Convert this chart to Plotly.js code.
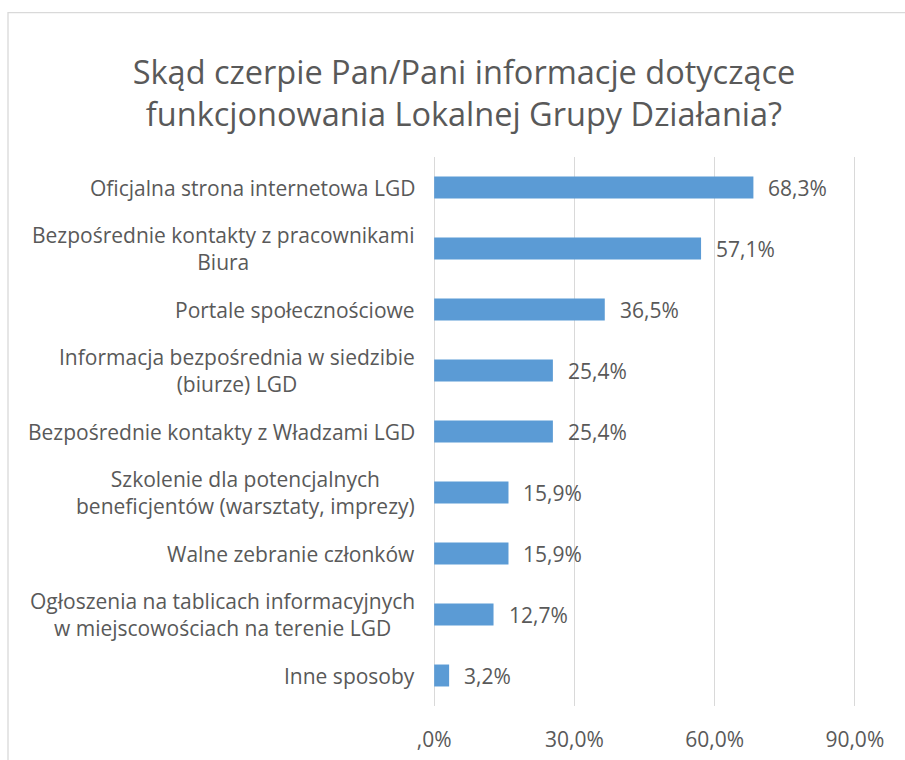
<!DOCTYPE html>
<html>
<head>
<meta charset="utf-8">
<script src="https://cdn.plot.ly/plotly-3.0.1.min.js"></script>
<style>html,body{margin:0;padding:0;background:#fff;}#chart{width:905px;height:760px;}</style>
</head>
<body>
<div id="chart"></div>
<script>
const categories = [
  "Oficjalna strona internetowa LGD",
  "Bezpośrednie kontakty z pracownikami<br>Biura",
  "Portale społecznościowe",
  "Informacja bezpośrednia w siedzibie<br>(biurze) LGD",
  "Bezpośrednie kontakty z Władzami LGD",
  "Szkolenie dla potencjalnych<br>beneficjentów (warsztaty, imprezy)",
  "Walne zebranie członków",
  "Ogłoszenia na tablicach informacyjnych<br>w miejscowościach na terenie LGD",
  "Inne sposoby"
];
const values = [68.3, 57.1, 36.5, 25.4, 25.4, 15.9, 15.9, 12.7, 3.2];
const valueLabels = ["68,3%", "57,1%", "36,5%", "25,4%", "25,4%", "15,9%", "15,9%", "12,7%", "3,2%"];
const tickVals = [0, 30, 60, 90];
const tickText = [",0%", "30,0%", "60,0%", "90,0%"];
const titleText = "Skąd czerpie Pan/Pani informacje dotyczące<br>funkcjonowania Lokalnej Grupy Działania?";

const FONT = "'Open Sans', sans-serif";
const GRAY = "#595959";
const FS = 21;

const trace = {
  type: "bar",
  orientation: "h",
  x: values,
  y: categories,
  marker: {color: "#5b9bd5"},
  hoverinfo: "none"
};

const annotations = [];
categories.forEach((c, i) => {
  annotations.push({
    xref: "paper", yref: "y", x: 0, y: c, xshift: -16,
    xanchor: "right", yanchor: "middle", align: "center",
    text: c, showarrow: false,
    font: {family: FONT, size: FS, color: GRAY}
  });
  annotations.push({
    xref: "x", yref: "y", x: values[i], y: c, xshift: 13,
    xanchor: "left", yanchor: "middle",
    text: valueLabels[i], showarrow: false,
    font: {family: FONT, size: FS, color: GRAY}
  });
});

const pad = 0.25;
const pxPerUnit = 420.5 / 90;

const layout = {
  width: 905, height: 760,
  margin: {l: 434.5 - pad * pxPerUnit, r: 50 - pad * pxPerUnit, t: 157, b: 53.5},
  paper_bgcolor: "#fff", plot_bgcolor: "#fff",
  showlegend: false,
  bargap: 0.64,
  title: {
    text: titleText,
    x: 464/905, xanchor: "center",
    y: 1 - 84/760, yanchor: "middle", yref: "container",
    font: {family: FONT, size: 32.5, color: GRAY}
  },
  xaxis: {
    range: [-pad, 90 + pad],
    tickvals: tickVals, ticktext: tickText,
    showgrid: true, gridcolor: "#d9d9d9", gridwidth: 1.3,
    zeroline: true, zerolinecolor: "#d9d9d9", zerolinewidth: 1.3,
    showline: false, ticks: "",
    ticklabelstandoff: 19,
    tickfont: {family: FONT, size: FS, color: GRAY},
    fixedrange: true
  },
  yaxis: {
    autorange: "reversed",
    showticklabels: false, showgrid: false, zeroline: false, ticks: "",
    fixedrange: true
  },
  annotations: annotations,
  shapes: [{
    type: "rect", xref: "paper", yref: "paper",
    x0: -1.02, x1: 2,
    y0: -1, y1: (706.5 - 12.5) / 549.5,
    line: {color: "#d9d9d9", width: 1.3}, fillcolor: "rgba(0,0,0,0)", layer: "below"
  }]
};

const plotW = 905 - layout.margin.l - layout.margin.r;
layout.shapes[0].x0 = (8.5 - layout.margin.l) / plotW;

Plotly.newPlot("chart", [trace], layout, {displayModeBar: false, staticPlot: true});
</script>
</body>
</html>
